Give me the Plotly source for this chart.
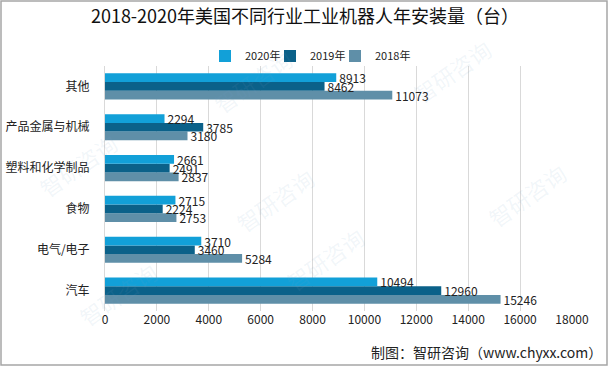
import plotly.graph_objects as go

categories = ["其他", "产品金属与机械", "塑料和化学制品", "食物", "电气/电子", "汽车"]
v2020 = [8913, 2294, 2661, 2715, 3710, 10494]
v2019 = [8462, 3785, 2491, 2224, 3460, 12960]
v2018 = [11073, 3180, 2837, 2753, 5284, 15246]
x_ticks = [0, 2000, 4000, 6000, 8000, 10000, 12000, 14000, 16000, 18000]

FONT = "Noto Sans CJK SC"
W, H = 608, 366
L, R, T, B = 105, 36, 66, 55
pw, ph = W - L - R, H - T - B

fig = go.Figure()
# invisible spacer entry so the last legend label is not clipped
fig.add_trace(go.Scatter(x=[None], y=[categories[0]], mode="markers", name=" ",
                         marker=dict(color="rgba(0,0,0,0)"), hoverinfo="skip"))
series = [("2018年", v2018, "#5f8fa8"), ("2019年", v2019, "#0b6189"), ("2020年", v2020, "#12a0d8")]
for name, vals, col in series:
    fig.add_trace(go.Bar(
        y=categories, x=vals, name=name, orientation="h",
        marker=dict(color=col, line=dict(width=0)),
        text=[str(v) for v in vals], textposition="outside", constraintext="none",
        textfont=dict(size=12, color="#222222", family=FONT),
        cliponaxis=False,
    ))

fig.update_layout(
    width=W, height=H,
    margin=dict(l=L, r=R, t=T, b=B, autoexpand=False),
    paper_bgcolor="white", plot_bgcolor="white",
    barmode="group", bargap=0.36, bargroupgap=0,
    uniformtext=dict(minsize=12, mode="show"),
    font=dict(family=FONT, color="#222222"),
    title=dict(text="2018-2020年美国不同行业工业机器人年安装量（台）",
               x=(305 - L) / pw, xref="paper", xanchor="center", y=1 - 17 / H, yanchor="middle",
               font=dict(size=18, family=FONT, color="#111111")),
    legend=dict(orientation="h", x=(205 - L) / pw, xanchor="left", y=1 + 10 / ph, yanchor="middle",
                traceorder="reversed", font=dict(size=11, family=FONT), itemwidth=30,
                entrywidth=20, entrywidthmode="pixels",
                bgcolor="rgba(0,0,0,0)"),
    showlegend=True,
)
fig.update_xaxes(range=[0, 18000], tickvals=x_ticks, ticktext=[str(t) for t in x_ticks],
                 showgrid=True, gridcolor="#d9d9d9", automargin=False,
                 gridwidth=1, zeroline=False, showline=False,
                 tickfont=dict(size=12, family=FONT, color="#222222"), ticks="")
fig.update_yaxes(type="category", categoryorder="array", categoryarray=categories[::-1],
                 automargin=False,
                 showline=True, linecolor="#d9d9d9", ticks="", ticklabelstandoff=12,
                 tickfont=dict(size=12, family=FONT, color="#222222"))

# faint watermarks
for wx, wy in [(205, 40), (500, 30), (30, 165), (275, 200), (325, 300), (70, 335), (575, 195)]:
    fig.add_annotation(text="智研咨询", xref="paper", yref="paper",
                       x=(wx - L) / pw, y=(H - B - wy) / ph, showarrow=False, textangle=-35,
                       font=dict(size=22, family=FONT, color="rgba(120,160,200,0.10)"))

fig.add_annotation(text="制图：智研咨询（www.chyxx.com）", xref="paper", yref="paper",
                   x=(W - 4 - L) / pw, y=-(352 - T - ph) / ph, xanchor="right", yanchor="middle",
                   showarrow=False, font=dict(size=14, family=FONT, color="#222222"))

fig.add_shape(type="rect", xref="paper", yref="paper",
              x0=(-L + 1) / pw, x1=(W - L - 1) / pw, y0=(-B + 1) / ph, y1=(H - B - 1) / ph,
              line=dict(color="#a6a6a6", width=1.5), fillcolor="rgba(0,0,0,0)", layer="below")

fig.write_html("out.html", config={"displayModeBar": False},
               post_script="document.body.style.margin='0';document.body.style.overflow='hidden';")
